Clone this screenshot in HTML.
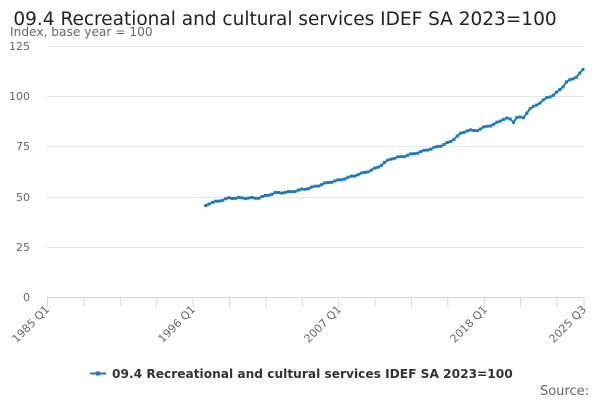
<!DOCTYPE html>
<html><head><meta charset="utf-8"><style>
body{margin:0;background:#fff;font-family:"DejaVu Sans",sans-serif;}
</style></head><body>
<svg width="600" height="400" xmlns="http://www.w3.org/2000/svg" font-family="DejaVu Sans, sans-serif">
<rect width="600" height="400" fill="#fff"/>
<text x="285" y="25" font-size="18.5" fill="#222" text-anchor="middle">09.4 Recreational and cultural services IDEF SA 2023=100</text>
<text x="10" y="36" font-size="12.2" fill="#666">Index, base year = 100</text>
<g stroke="#e6e6e6" stroke-width="1">
<line x1="47" x2="584" y1="46.5" y2="46.5"/><line x1="47" x2="584" y1="96.5" y2="96.5"/>
<line x1="47" x2="584" y1="146.5" y2="146.5"/><line x1="47" x2="584" y1="197.5" y2="197.5"/>
<line x1="47" x2="584" y1="247.5" y2="247.5"/>
</g>
<line x1="47" x2="584" y1="297.5" y2="297.5" stroke="#ccd6eb"/>
<g font-size="11" fill="#666" text-anchor="end">
<text x="30" y="50">125</text><text x="30" y="100">100</text><text x="30" y="150">75</text>
<text x="30" y="201">50</text><text x="30" y="251">25</text><text x="30" y="301">0</text>
</g>
<g id="ticks" stroke="#ccd6eb"></g>
<g font-size="11" fill="#666" text-anchor="end">
<text transform="translate(50,310) rotate(-45)">1985 Q1</text>
<text transform="translate(196,310) rotate(-45)">1996 Q1</text>
<text transform="translate(342,310) rotate(-45)">2007 Q1</text>
<text transform="translate(488,310) rotate(-45)">2018 Q1</text>
<text transform="translate(587,310) rotate(-45)">2025 Q3</text>
</g>
<g id="series"></g>
<line x1="90" x2="106" y1="373.5" y2="373.5" stroke="#1a7abf" stroke-width="2"/>
<rect x="96" y="371.5" width="4" height="4" fill="#1a7abf"/>
<text x="112" y="378" font-size="12.2" font-weight="bold" fill="#333">09.4 Recreational and cultural services IDEF SA 2023=100</text>
<text x="589" y="395" font-size="13" fill="#666" text-anchor="end">Source:</text>
</svg>
<script>
var ns="http://www.w3.org/2000/svg";
var t=document.getElementById("ticks");
for(var i=0;i<=14;i++){var x=47.5+i*11*536/162;var l=document.createElementNS(ns,"line");l.setAttribute("x1",x);l.setAttribute("x2",x);l.setAttribute("y1",297);l.setAttribute("y2",307);t.appendChild(l);}
var l2=document.createElementNS(ns,"line");l2.setAttribute("x1",584);l2.setAttribute("x2",584);l2.setAttribute("y1",297);l2.setAttribute("y2",307);t.appendChild(l2);
var k=[[205,206],[210,203],[215,202],[222,200],[230,198],[245,198],[258,198],[265,196],[275,193],[290,192],[300,190],[310,188],[320,185],[330,182],[340,180],[350,177],[360,174],[372,170],[380,166],[390,159],[405,156],[420,152],[430,149],[440,146],[450,142],[460,134],[468,130],[475,131],[485,127],[495,124],[505,118],[510,119],[513,123],[516,117],[524,118],[528,110],[535,106],[545,99],[555,94],[562,88],[566,82],[575,78],[583,70]];
function yAt(x){for(var i=1;i<k.length;i++){if(x<=k[i][0]){var a=k[i-1],b=k[i];return a[1]+(b[1]-a[1])*(x-a[0])/(b[0]-a[0]);}}return k[k.length-1][1];}
var pts=[],s=document.getElementById("series");
for(var q=48;q<=162;q++){var x=47+q*536/162;var y=yAt(x)+Math.sin(q*1.7)*0.6;pts.push(x.toFixed(1)+","+y.toFixed(1));}
var p=document.createElementNS(ns,"polyline");p.setAttribute("points",pts.join(" "));p.setAttribute("fill","none");p.setAttribute("stroke","#1a7abf");p.setAttribute("stroke-width","2");s.appendChild(p);
pts.forEach(function(pp){var c=pp.split(",");var r=document.createElementNS(ns,"rect");r.setAttribute("x",c[0]-1.5);r.setAttribute("y",c[1]-1.5);r.setAttribute("width",3);r.setAttribute("height",3);r.setAttribute("fill","#1a7abf");s.appendChild(r);});
</script>
</body></html>
